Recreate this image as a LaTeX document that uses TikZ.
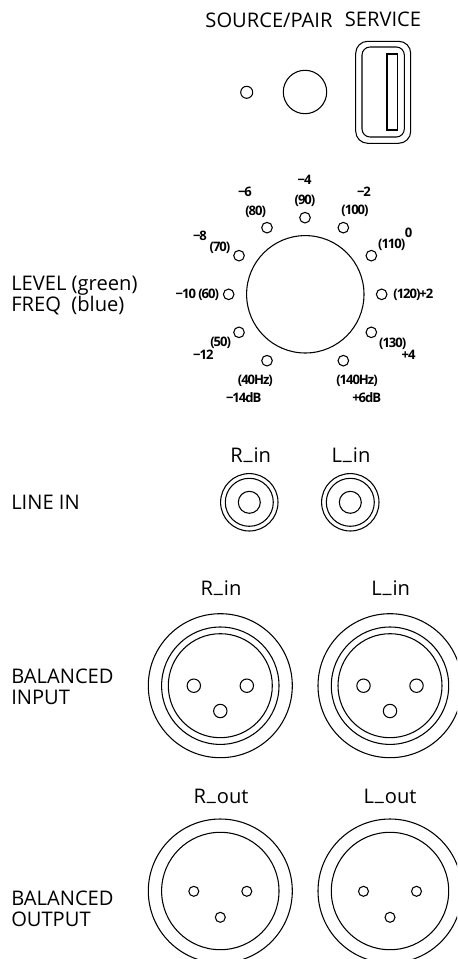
\documentclass[tikz,border=0pt]{standalone}
\usepackage{fontspec}
\setmainfont{Open Sans}
\tikzset{
  part/.style={draw=black,line width=0.8pt,fill=none},
  lab/.style={font=\fontsize{15.1pt}{18pt}\selectfont,text=black,inner sep=0pt,anchor=base},
  leftlab/.style={lab,anchor=base west},
  tiny/.style={font=\fontsize{9.8pt}{10pt}\selectfont\bfseries\addfontfeatures{LetterSpace=-8},text=black,inner sep=0pt},
}
\newcommand{\xlrthree}[3]{%
  \draw[part] (#1,#2) circle[radius=#3];}
\newcommand{\xus}{\kern0.7pt\raisebox{1.6pt}{\_}\kern0.7pt}
\begin{document}
\begin{tikzpicture}[x=0.75pt,y=-0.75pt]
\useasboundingbox (0,0) rectangle (457,959);
\clip (0,0) rectangle (457,959);
% top row
\node[lab] (source) at (269,28) {SOURCE/PAIR};
\node[lab] (service) at (383,27) {SERVICE};
\xlrthree{246.7}{92.3}{6}
\xlrthree{305}{92}{21.7}
\draw[part,rounded corners=12*0.75pt] (355.7,41.3) rectangle (410.7,143.3);
\draw[part,rounded corners=8*0.75pt] (362,47) rectangle (404.3,137);
\draw[part] (387,54) rectangle (397.7,130);
% level knob
\xlrthree{305.3}{294.3}{58.7}
\foreach \zx/\zy in {405/158,520/188,604/272,635/388,604/502,520/587,291/587,207/502,176/388,207/272,291/188}{
  \draw[part] ({170+\zx/3},{165+\zy/3}) circle[radius=5.3];
}
\foreach \nm/\zx/\zy/\txt in {
  a/404/46/{−4},b/405/107/{(90)},c/225/82/{−6},d/257/140/{(80)},e/582/80/{−2},f/555/137/{(100)},
  g/90/212/{−8},h/150/248/{(70)},i/716/204/{0},j/665/240/{(110)},k/82/388/{−10 (60)},l/730/388/{(120)+2},
  m/152/532/{(50)},n/100/570/{−12},o/668/535/{(130)},p/716/570/{+4},q/256/646/{(40Hz)},r/221/698/{−14dB},
  s/561/646/{(140Hz)},t/590/698/{+6dB}}{
  \node[tiny] (\nm) at ({170+\zx/3},{165+\zy/3}) {\txt};
}
\node[leftlab] (level) at (11,290) {LEVEL (green)};
\node[leftlab] (freq) at (11,311) {FREQ\ \ (blue)};
% line in
\node[leftlab] (linein) at (11,509) {LINE IN};
\node[lab] (rin1) at (250.7,462) {R\xus in};
\node[lab] (lin1) at (351,462) {L\xus in};
\foreach \cx in {249.3,350.3}{
  \xlrthree{\cx}{502.3}{28.7}
  \xlrthree{\cx}{502.3}{24}
  \xlrthree{\cx}{502.3}{11}
}
% balanced input
\node[leftlab] (bal1) at (11,683) {BALANCED};
\node[leftlab] (inp) at (11,704) {INPUT};
\node[lab] (rin2) at (221,595) {R\xus in};
\node[lab] (lin2) at (390.7,595) {L\xus in};
\foreach \cx in {220.3,390}{
  \xlrthree{\cx}{685.7}{72}
  \xlrthree{\cx}{685.7}{58.7}
  \xlrthree{\cx}{685.7}{52}
  \xlrthree{\cx-26.5}{685.7}{6.7}
  \xlrthree{\cx+26.5}{685.7}{6.7}
  \xlrthree{\cx}{711}{6.7}
}
% balanced output
\node[leftlab] (bal2) at (11,905) {BALANCED};
\node[leftlab] (outp) at (11,926) {OUTPUT};
\node[lab] (rout) at (221,803) {R\xus out};
\node[lab] (lout) at (390,803) {L\xus out};
\foreach \cx in {220.3,390}{
  \xlrthree{\cx}{891}{72}
  \xlrthree{\cx}{891}{58.7}
  \xlrthree{\cx-26.5}{891.3}{5}
  \xlrthree{\cx+26.5}{891.3}{5}
  \xlrthree{\cx}{917.3}{5}
}
\end{tikzpicture}
\end{document}
